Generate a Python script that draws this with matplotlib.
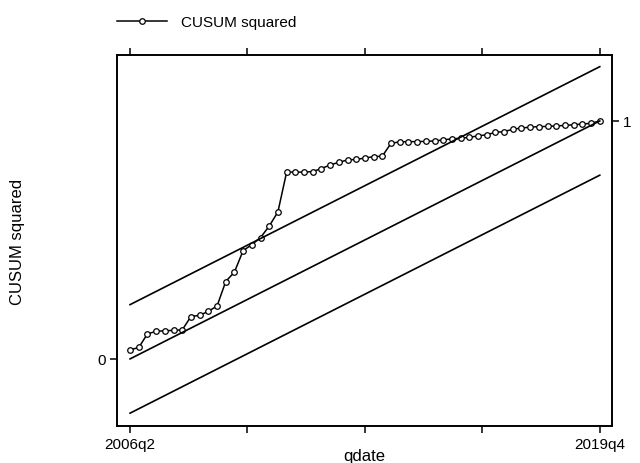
import numpy as np
import pandas as pd
from matplotlib import pyplot as plt

plt.rcParams['font.family'] = ['Liberation Sans', 'DejaVu Sans']

# quarterly dates, 2006q2 .. 2019q4
quarters = [f"{p.year}q{p.quarter}" for p in pd.period_range('2006Q2', '2019Q4', freq='Q')]
cusum_sq = [0.038, 0.048, 0.105, 0.116, 0.118, 0.120, 0.122, 0.178, 0.183, 0.200,
            0.222, 0.325, 0.365, 0.455, 0.480, 0.510, 0.558, 0.618, 0.785, 0.785,
            0.785, 0.787, 0.800, 0.815, 0.826, 0.836, 0.838, 0.844, 0.850, 0.852,
            0.906, 0.912, 0.913, 0.913, 0.914, 0.916, 0.920, 0.925, 0.927, 0.931,
            0.937, 0.942, 0.952, 0.955, 0.965, 0.970, 0.974, 0.976, 0.977, 0.979,
            0.981, 0.984, 0.987, 0.990, 1.000]
c0 = 0.228  # critical value for the bands

t = np.arange(len(quarters))
expected = t / t[-1]

fig = plt.figure(figsize=(6.4, 4.64), dpi=100)
ax = fig.add_axes([0.1828, 0.0797, 0.7734, 0.7996])

ax.plot(t, cusum_sq, color='black', lw=1.1, marker='o', ms=4.0,
        mfc='white', mec='black', mew=0.9, label='CUSUM squared')
ax.plot(t, expected, color='black', lw=1.2)
ax.plot(t, expected + c0, color='black', lw=1.2)
ax.plot(t, expected - c0, color='black', lw=1.2)

ax.set_xlim(-1.5, 55.4)
ax.set_ylim(-0.282, 1.277)

xt = np.linspace(0, t[-1], 5)
ax.set_xticks(xt)
ax.set_xticklabels([quarters[0], '', '', '', quarters[-1]])
ax.set_yticks([0])
ax.set_yticklabels(['0'])
ax.tick_params(axis='both', direction='out', length=5, width=1.1, labelsize=11, pad=3)
ax.tick_params(axis='x', top=True)

ax2 = ax.twinx()
ax2.set_ylim(ax.get_ylim())
ax2.set_yticks([1])
ax2.set_yticklabels(['1'])
ax2.tick_params(axis='y', direction='out', length=5, width=1.1, labelsize=11, pad=3)

for a in (ax, ax2):
    for s in a.spines.values():
        s.set_linewidth(1.2)

ax.set_ylabel('CUSUM squared', fontsize=12)
ax.yaxis.set_label_coords(-0.186, 0.5)
ax.set_xlabel('qdate', fontsize=12)
ax.xaxis.set_label_coords(0.5, -0.058)

ax.legend(loc='center left', bbox_to_anchor=(0.0, 1.089), frameon=False,
          numpoints=1, handlelength=3.3, handletextpad=0.9,
          borderpad=0, borderaxespad=0, fontsize=11)

fig.savefig('out.png', dpi=100)
